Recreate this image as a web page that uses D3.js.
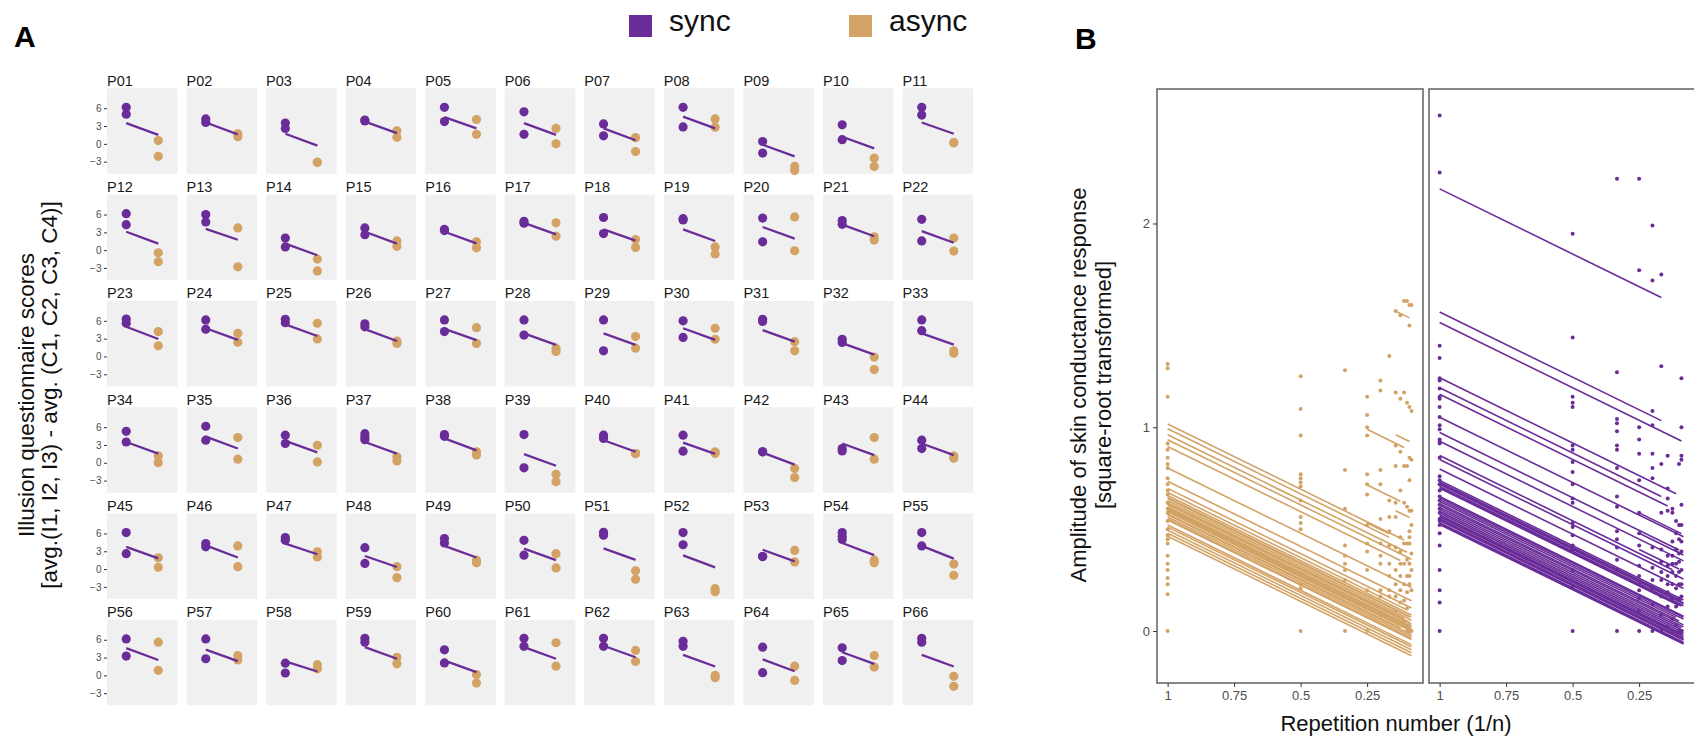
<!DOCTYPE html>
<html>
<head>
<meta charset="utf-8">
<script src="https://cdn.jsdelivr.net/npm/d3@7"></script>
<style>
  body { margin: 0; background: #fff; }
  text { font-family: "Liberation Sans", Arial, sans-serif; }
</style>
</head>
<body>
<svg id="chart"></svg>
<script>
// ---- panel A data: per participant questionnaire scores ----
const participants = [
  "P01","P02","P03","P04","P05","P06","P07","P08","P09","P10","P11",
  "P12","P13","P14","P15","P16","P17","P18","P19","P20","P21","P22",
  "P23","P24","P25","P26","P27","P28","P29","P30","P31","P32","P33",
  "P34","P35","P36","P37","P38","P39","P40","P41","P42","P43","P44",
  "P45","P46","P47","P48","P49","P50","P51","P52","P53","P54","P55",
  "P56","P57","P58","P59","P60","P61","P62","P63","P64","P65","P66"
];
const conditions = ["sync", "async"];
const syncScores = [
  [6.15,5.0],[4.2,3.6],[3.5,2.6],[4.0,3.85],[6.15,3.75],[5.4,1.6],[3.35,1.35],[6.15,2.85],[0.4,-1.55],[3.2,0.7],[6.15,4.85],
  [6.15,4.3],[6.0,4.75],[2.05,0.55],[3.75,2.6],[3.5,3.3],[4.85,4.55],[5.5,2.8],[5.3,5.1],[5.4,1.4],[5.0,4.35],[5.2,1.55],
  [6.3,5.6],[6.15,4.6],[6.25,5.7],[5.5,5.0],[6.15,4.2],[6.15,3.6],[6.15,0.95],[6.0,3.2],[6.25,5.9],[2.9,2.35],[6.15,4.35],
  [5.3,3.5],[6.15,3.8],[4.65,3.25],[4.9,4.35,3.9],[4.75,4.45],[4.75,-0.85],[4.65,4.1],[4.65,1.95],[1.85,1.85],[2.4,2.0],[3.8,2.4],
  [6.15,2.6],[4.3,3.75],[5.3,4.85],[3.6,0.95],[5.15,4.4],[4.85,2.35],[6.2,5.7],[6.15,4.1],[2.1,2.1],[6.15,5.55,5.0],[6.15,3.9],
  [6.15,3.25],[6.15,2.8],[2.05,0.4],[6.25,5.6],[4.3,2.1],[6.25,4.9],[6.25,4.9],[5.75,4.9],[4.75,0.45],[4.65,2.5],[6.25,5.6]
];
const asyncScores = [
  [0.55,-2.1],[1.7,1.2],[-3.1,-3.1],[2.2,1.1],[4.1,1.6],[2.6,0],[1.05,-1.3],[4.2,2.8],[-3.8,-4.5],[-2.4,-3.8],[0.2,0.2],
  [-0.45,-1.95],[3.75,-2.8],[-1.5,-3.5],[1.55,0.65],[1.4,0.4],[4.6,2.35],[1.8,0.45],[0.55,-0.65],[5.6,-0.1],[2.25,1.7],[2.05,-0.15],
  [4.2,1.8],[3.9,2.4],[5.6,2.95],[2.6,2.2],[4.85,2.2],[1.4,0.85],[3.35,1.4],[4.75,2.9],[2.5,0.95],[-0.1,-2.2],[0.95,0.55],
  [1.15,0],[4.25,0.6],[2.95,0.15],[1.0,0.3],[1.85,1.3],[-1.95,-3.2],[1.55,1.55],[1.85,1.55],[-0.95,-2.5],[4.25,0.6],[1.15,0.75],
  [1.9,0.3],[3.9,0.4],[2.9,2.05],[0.4,-1.45],[1.5,1.05],[2.6,0.2],[-0.3,-1.7],[-3.3,-3.8],[3.15,1.2],[1.5,1.05],[0.85,-1.05],
  [5.6,0.85],[3.35,2.6],[1.8,1.1],[3.05,1.95],[0.15,-1.3],[5.5,1.55],[4.2,2.35],[0,-0.4],[1.55,-0.85],[3.35,1.4],[-0.15,-1.85]
];
// fitted values of the model line, sync and async end
const fitSync = [
  3.5,3.6,1.7,3.75,4.5,3.5,2.6,4.6,-0.15,1.2,3.6,
  3.1,3.6,1.1,3.1,3.1,4.6,3.5,3.5,3.9,4.3,3.2,
  5.0,4.75,5.4,4.6,4.65,3.9,3.9,4.75,4.45,2.25,3.9,
  3.5,4.4,3.7,3.5,4.1,1.45,3.8,3.4,1.7,3.25,3.25,
  3.75,4.0,4.3,2.2,3.9,3.45,3.5,2.3,3.25,4.4,3.9,
  4.6,4.35,2.35,4.75,2.5,4.75,5.0,3.45,2.7,3.9,3.45
];
const fitAsync = [
  1.5,1.6,-0.3,1.8,2.6,1.5,0.6,2.6,-2.1,-0.75,1.7,
  1.1,1.75,-0.85,1.1,1.15,2.65,1.6,1.55,1.95,2.35,1.25,
  2.95,2.8,3.45,2.6,2.75,1.95,1.95,2.8,2.5,0.3,2.0,
  1.55,2.4,1.75,1.55,2.1,-0.5,1.85,1.5,-0.3,1.3,1.3,
  1.8,1.95,2.5,0.35,1.95,1.5,1.55,0.3,1.3,2.35,1.75,
  2.6,2.4,0.65,2.8,0.55,2.8,3.05,1.5,0.7,1.95,1.5
];
const scoreTicks = [-3, 0, 3, 6];

// ---- panel B data: skin conductance by repetition n (x = 1/n) ----
// dots listed per repetition n = 1..12
const asyncDotsByRep = [
  [1.31,1.29,1.15,0.92,0.89,0.85,0.82,0.80,0.75,0.72,0.69,0.67,0.63,0.60,0.58,0.54,0.50,0.47,0.45,0.43,0.37,0.33,0.30,0.26,0.23,0.18,0],
  [1.25,1.09,0.96,0.77,0.75,0.73,0.71,0.64,0.56,0.53,0.50,0.23,0.21,0],
  [1.28,0.79,0.60,0.42,0.37,0.33,0.30,0.25,0.17,0],
  [1.15,1.06,1.00,0.96,0.77,0.72,0.67,0.52,0.43,0.39,0.30,0.20,0.12,0],
  [1.23,1.18,0.79,0.72,0.55,0.43,0.37,0.33,0.20,0.17,0.08],
  [1.35,0.64,0.56,0.49,0.42,0.33,0.27,0.20,0.17],
  [1.57,1.17,0.91,0.81,0.63,0.56,0.41,0.30,0.23,0.17,0.10],
  [1.55,1.14,0.88,0.69,0.46,0.39,0.33,0.27,0.20,0.14],
  [1.62,1.17,0.81,0.63,0.43,0.33,0.23,0.15,0.05],
  [1.62,1.12,0.81,0.61,0.43,0.35,0.27,0.19,0.11,0],
  [1.60,1.50,1.10,0.85,0.74,0.59,0.49,0.46,0.43,0.33,0.27,0.23,0],
  [1.60,1.08,0.84,0.59,0.52,0.38,0.30,0.20,0]
];
const syncDotsByRep = [
  [2.53,2.25,1.40,1.34,1.24,1.23,1.19,1.15,1.14,1.10,1.05,1.01,0.99,0.94,0.93,0.92,0.85,0.76,0.74,0.72,0.69,0.66,0.64,0.62,0.60,0.58,0.55,0.54,0.52,0.48,0.42,0.30,0.20,0.14,0],
  [1.95,1.44,1.15,1.12,1.10,0.91,0.89,0.83,0.78,0.72,0.65,0.63,0.53,0.51,0.47,0.42,0.40,0.30,0.22,0],
  [2.22,1.27,1.04,1.02,0.98,0.91,0.89,0.80,0.66,0.61,0.49,0.45,0.41,0.35,0.30,0],
  [2.22,1.77,1.00,0.94,0.87,0.74,0.58,0.48,0.42,0.32,0.27,0.23,0.20,0.16,0.10,0],
  [1.99,1.72,1.08,1.01,0.87,0.80,0.75,0.41,0.31,0.25,0.21,0.13,0],
  [1.75,1.30,0.82,0.58,0.40,0.34,0.29,0.25,0.17,0.08,0],
  [0.86,0.70,0.65,0.59,0.37,0.32,0.27,0.23,0.19,0.12,0.02],
  [0.60,0.58,0.44,0.37,0.33,0.29,0.23,0.16,0.06,0],
  [0.54,0.48,0.40,0.33,0.27,0.21,0.12,0.03],
  [0.82,0.52,0.45,0.38,0.34,0.29,0.23,0.16,0],
  [1.24,1.00,0.86,0.84,0.62,0.52,0.44,0.39,0.30,0.23,0.17,0]
];
// model lines: [fitted value at first repetition, first n, last n]
const asyncFits = [
  [1.016,1,9],[0.993,1,6],[0.963,1,10],[0.939,1,12],[0.906,1,8],[0.80,1,12],[0.735,1,12],
  [0.70,1,12],[0.68,1,10],[0.665,1,12],[0.655,1,12],[0.65,1,11],[0.64,1,12],[0.63,1,9],
  [0.625,1,11],[0.62,1,12],[0.61,1,12],[0.605,1,12],[0.60,1,11],[0.595,1,12],[0.59,1,12],
  [0.585,1,12],[0.575,1,8],[0.57,1,12],[0.56,1,12],[0.55,1,12],[0.545,1,12],[0.52,1,12],
  [0.51,1,12],[0.495,1,12],[0.48,1,12],[0.465,1,12],
  [0.99,4,9],[0.963,7,11],[0.717,4,8],[0.59,7,11],[0.53,4,6],[1.57,7,11]
];
const syncFits = [
  [2.17,1,6],[1.566,1,6],[1.514,1,11],[1.243,1,9],[1.194,1,6],[1.162,1,7],[1.049,1,12],
  [0.974,1,10],[0.931,1,12],[0.861,1,8],[0.842,1,12],[0.795,1,12],[0.739,1,12],[0.73,1,11],
  [0.725,1,12],[0.72,1,12],[0.711,1,12],[0.705,1,11],[0.701,1,10],[0.66,1,12],[0.654,1,12],
  [0.645,1,12],[0.636,1,9],[0.625,1,10],[0.617,1,12],[0.607,1,12],[0.598,1,11],[0.588,1,12],
  [0.579,1,12],[0.57,1,12],[0.565,1,11],[0.56,1,12],[0.551,1,12],[0.545,1,12],[0.542,1,12],
  [0.532,1,12],[0.528,1,12],[0.523,1,12],[0.58,4,11],[0.48,4,12],[0.40,4,10]
];
const repSlope = 0.64; // fixed-effect slope per unit of 1/n
const repTicks = [1, 0.75, 0.5, 0.25];
const ampTicks = [0, 1, 2];

const colorSync = "#6a2c98";
const colorAsync = "#d3a366";
const W = 1694, H = 738;
const tickFont = '"Liberation Sans", Arial, sans-serif';

const svg = d3.select("#chart").attr("width", W).attr("height", H);
svg.append("rect").attr("width", W).attr("height", H).attr("fill", "#fff");

// panel letters
svg.append("text").attr("x", 14).attr("y", 47).attr("font-size", 30)
  .attr("font-weight", "bold").text("A");
svg.append("text").attr("x", 1075).attr("y", 49).attr("font-size", 30)
  .attr("font-weight", "bold").text("B");

// legend
const legend = [{ label: "sync", color: colorSync, x: 629 }, { label: "async", color: colorAsync, x: 849 }];
legend.forEach((d) => {
  svg.append("rect").attr("x", d.x).attr("y", 15).attr("width", 23).attr("height", 22).attr("fill", d.color);
  svg.append("text").attr("x", d.x + 40).attr("y", 31).attr("font-size", 30).attr("fill", "#111").text(d.label);
});

// ---------- Panel A: small multiples ----------
const col = d3.scaleBand().domain(d3.range(11)).range([107, 973]).paddingInner(0.114);
const row = d3.scaleBand().domain(d3.range(6)).range([88.3, 705.3]).paddingInner(0.196);
const yA = d3.scaleLinear().domain([-5.04, 9.36]).range([row.bandwidth(), 0]);
const xA = d3.scalePoint().domain(conditions).range([0, col.bandwidth()]).padding(0.6);

participants.forEach((p, i) => {
  const c = i % 11, r = Math.floor(i / 11);
  const g = svg.append("g").attr("transform", `translate(${col(c)},${row(r)})`);

  g.append("rect").attr("width", col.bandwidth()).attr("height", row.bandwidth()).attr("fill", "#f0f0f0");
  g.append("text").attr("x", 0).attr("y", -2.5).attr("font-size", 14.5).attr("fill", "#1a1a1a").text(p);

  syncScores[i].forEach((v) => {
    g.append("circle").attr("cx", xA("sync")).attr("cy", yA(v)).attr("r", 4.6).attr("fill", colorSync);
  });
  asyncScores[i].forEach((v) => {
    g.append("circle").attr("cx", xA("async")).attr("cy", yA(v)).attr("r", 4.6).attr("fill", colorAsync);
  });
  g.append("line")
    .attr("x1", xA("sync")).attr("y1", yA(fitSync[i]))
    .attr("x2", xA("async")).attr("y2", yA(fitAsync[i]))
    .attr("stroke", colorSync).attr("stroke-width", 2.3);

  if (c === 0) {
    const ax = g.append("g").call(d3.axisLeft(yA).tickValues(scoreTicks).tickSize(3).tickPadding(2.5));
    ax.select(".domain").remove();
    ax.selectAll(".tick line").attr("stroke", "#333");
    ax.selectAll(".tick text").attr("font-size", 10).attr("fill", "#4d4d4d").attr("font-family", tickFont);
  }
});

// y title panel A
const titleA = svg.append("g").attr("transform", "translate(0,395) rotate(-90)");
titleA.append("text").attr("x", 0).attr("y", 34).attr("text-anchor", "middle").attr("font-size", 22.5)
  .attr("fill", "#111").text("Illusion questionnaire scores");
titleA.append("text").attr("x", 0).attr("y", 57).attr("text-anchor", "middle").attr("font-size", 22.5)
  .attr("fill", "#111").text("[avg.(I1, I2, I3) - avg. (C1, C2, C3, C4)]");

// ---------- Panel B: repetition plot ----------
const yB = d3.scaleLinear().domain([-0.255, 2.66]).range([683, 89]);
const xL = d3.scaleLinear().domain([1.04, 0.04]).range([1157, 1423]);
const xR = d3.scaleLinear().domain([1.04, 0.04]).range([1429, 1695]);

function drawFacet(xs, dotsByRep, fits, color, withY) {
  const g = svg.append("g");
  g.append("rect").attr("x", xs.range()[0]).attr("y", 89)
    .attr("width", xs.range()[1] - xs.range()[0]).attr("height", 594)
    .attr("fill", "#fff").attr("stroke", "#555").attr("stroke-width", 1.4);

  dotsByRep.forEach((vals, k) => {
    const n = k + 1;
    vals.forEach((v) => {
      g.append("circle").attr("cx", xs(1 / n)).attr("cy", yB(v)).attr("r", 2).attr("fill", color);
    });
  });

  fits.forEach(([y0, first, last]) => {
    const x0 = 1 / first, x1 = 1 / last;
    g.append("line")
      .attr("x1", xs(x0)).attr("y1", yB(y0))
      .attr("x2", xs(x1)).attr("y2", yB(y0 - repSlope * (x0 - x1)))
      .attr("stroke", color).attr("stroke-width", 1.6);
  });

  const xAxis = g.append("g").attr("transform", "translate(0,683)")
    .call(d3.axisBottom(xs).tickValues(repTicks).tickFormat(d3.format("~g")).tickSize(4).tickPadding(4));
  xAxis.select(".domain").remove();
  xAxis.selectAll(".tick line").attr("stroke", "#333");
  xAxis.selectAll(".tick text").attr("font-size", 13).attr("fill", "#4d4d4d").attr("font-family", tickFont);

  if (withY) {
    const yAxis = g.append("g").attr("transform", `translate(${xs.range()[0]},0)`)
      .call(d3.axisLeft(yB).tickValues(ampTicks).tickFormat(d3.format("~g")).tickSize(4).tickPadding(3));
    yAxis.select(".domain").remove();
    yAxis.selectAll(".tick line").attr("stroke", "#333");
    yAxis.selectAll(".tick text").attr("font-size", 13).attr("fill", "#4d4d4d").attr("font-family", tickFont);
  }
}

drawFacet(xL, asyncDotsByRep, asyncFits, colorAsync, true);
drawFacet(xR, syncDotsByRep, syncFits, colorSync, false);

svg.append("text").attr("x", 1396).attr("y", 731).attr("text-anchor", "middle")
  .attr("font-size", 22).attr("fill", "#111").text("Repetition number (1/n)");

const titleB = svg.append("g").attr("transform", "translate(0,385) rotate(-90)");
titleB.append("text").attr("x", 0).attr("y", 1086).attr("text-anchor", "middle").attr("font-size", 22)
  .attr("fill", "#111").text("Amplitude of skin conductance response");
titleB.append("text").attr("x", 0).attr("y", 1111).attr("text-anchor", "middle").attr("font-size", 22)
  .attr("fill", "#111").text("[square-root transformed]");
</script>
</body>
</html>
